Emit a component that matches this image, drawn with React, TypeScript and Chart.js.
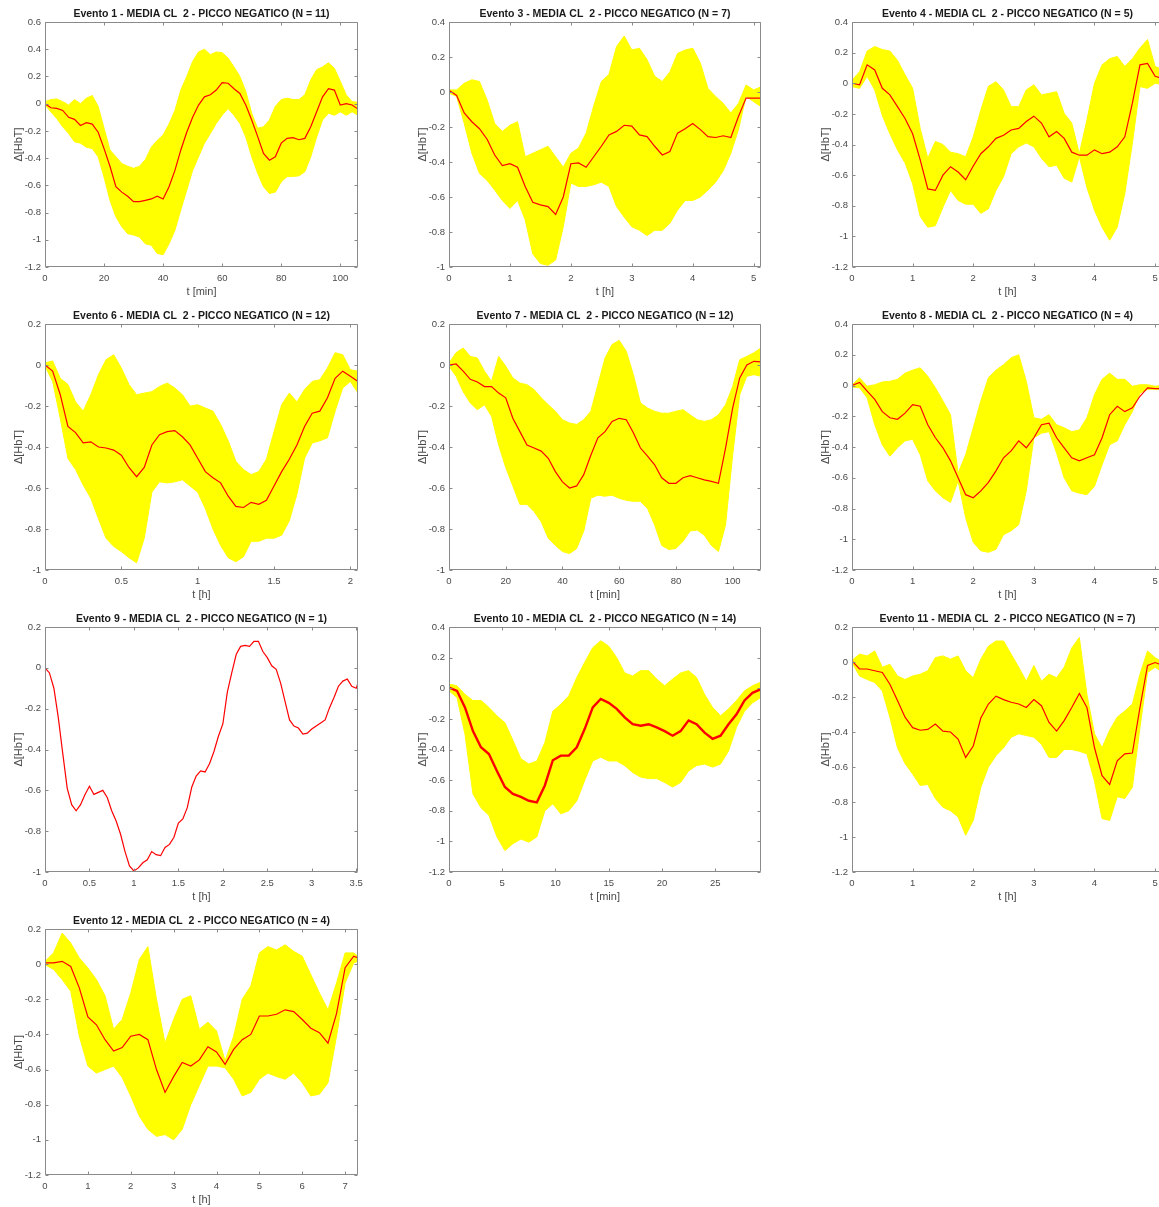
import React, { useEffect, useRef } from "react";
import { Chart, registerables } from "chart.js";

Chart.register(...registerables);

// ---------------- DATA ----------------
// Evento 1 (t in minutes)
const ev1T = [0, 2, 4, 6, 8, 10, 12, 14, 16, 18, 20, 22, 24, 26, 28, 30, 32, 34, 36, 38, 40, 42, 44, 46, 48, 50, 52, 54, 56, 58, 60, 62, 64, 66, 68, 70, 72, 74, 76, 78, 80, 82, 84, 86, 88, 90, 92, 94, 96, 98, 100, 102, 104, 106];
const ev1Mean = [0, -0.03, -0.035, -0.05, -0.1, -0.115, -0.16, -0.14, -0.15, -0.21, -0.33, -0.46, -0.61, -0.65, -0.68, -0.72, -0.72, -0.71, -0.7, -0.68, -0.7, -0.61, -0.49, -0.34, -0.21, -0.1, -0.01, 0.05, 0.065, 0.1, 0.155, 0.15, 0.11, 0.075, -0.01, -0.12, -0.24, -0.365, -0.415, -0.39, -0.29, -0.255, -0.25, -0.265, -0.255, -0.17, -0.06, 0.05, 0.11, 0.1, -0.01, 0.0, -0.01, -0.04];
const ev1Upper = [0.015, 0.03, 0.035, 0.015, -0.01, 0.03, 0.0, 0.04, 0.06, -0.02, -0.18, -0.34, -0.39, -0.44, -0.46, -0.475, -0.46, -0.41, -0.32, -0.27, -0.23, -0.15, -0.05, 0.1, 0.2, 0.31, 0.38, 0.4, 0.36, 0.38, 0.375, 0.335, 0.27, 0.2, 0.09, -0.07, -0.18, -0.17, -0.12, -0.02, 0.03, 0.04, 0.03, 0.03, 0.065, 0.175, 0.25, 0.27, 0.3, 0.26, 0.165, 0.065, 0.015, 0.01];
const ev1Lower = [-0.01, -0.06, -0.11, -0.17, -0.22, -0.28, -0.29, -0.32, -0.33, -0.39, -0.54, -0.71, -0.83, -0.905, -0.955, -0.965, -0.98, -1.03, -1.04, -1.1, -1.11, -1.03, -0.93, -0.78, -0.635, -0.49, -0.39, -0.29, -0.22, -0.145, -0.085, -0.035, -0.085, -0.145, -0.245, -0.39, -0.51, -0.61, -0.66, -0.65, -0.575, -0.535, -0.535, -0.53, -0.5, -0.39, -0.245, -0.12, -0.07, -0.085, -0.06, -0.085, -0.06, -0.085];

// Evento 3 (t in hours)
const ev3T = [0, 0.125, 0.25, 0.375, 0.5, 0.625, 0.75, 0.875, 1, 1.125, 1.25, 1.375, 1.5, 1.625, 1.75, 1.875, 2, 2.125, 2.25, 2.375, 2.5, 2.625, 2.75, 2.875, 3, 3.125, 3.25, 3.375, 3.5, 3.625, 3.75, 3.875, 4, 4.125, 4.25, 4.375, 4.5, 4.625, 4.75, 4.875, 5, 5.125];
const ev3Mean = [0.01, -0.02, -0.12, -0.17, -0.21, -0.27, -0.36, -0.42, -0.41, -0.43, -0.54, -0.63, -0.645, -0.655, -0.7, -0.6, -0.41, -0.405, -0.43, -0.37, -0.31, -0.245, -0.225, -0.19, -0.195, -0.245, -0.255, -0.31, -0.36, -0.34, -0.235, -0.21, -0.18, -0.215, -0.255, -0.26, -0.25, -0.26, -0.14, -0.035, -0.035, -0.035];
const ev3Upper = [0.012, 0.012, 0.05, 0.07, 0.06, -0.045, -0.18, -0.225, -0.19, -0.17, -0.37, -0.35, -0.33, -0.31, -0.37, -0.43, -0.35, -0.32, -0.235, -0.08, 0.06, 0.1, 0.26, 0.32, 0.24, 0.25, 0.185, 0.09, 0.06, 0.115, 0.22, 0.24, 0.25, 0.165, 0.02, -0.025, -0.065, -0.12, -0.065, 0.04, 0.012, 0.03];
const ev3Lower = [-0.007, -0.025, -0.18, -0.35, -0.465, -0.505, -0.56, -0.62, -0.665, -0.62, -0.73, -0.925, -0.98, -0.99, -0.96, -0.77, -0.52, -0.54, -0.54, -0.53, -0.515, -0.54, -0.655, -0.715, -0.77, -0.79, -0.82, -0.79, -0.79, -0.75, -0.675, -0.62, -0.62, -0.6, -0.56, -0.515, -0.45, -0.35, -0.215, -0.025, -0.055, -0.085];

// Evento 4 (t in hours)
const ev4T = [0, 0.125, 0.25, 0.375, 0.5, 0.625, 0.75, 0.875, 1, 1.125, 1.25, 1.375, 1.5, 1.625, 1.75, 1.875, 2, 2.125, 2.25, 2.375, 2.5, 2.625, 2.75, 2.875, 3, 3.125, 3.25, 3.375, 3.5, 3.625, 3.75, 3.875, 4, 4.125, 4.25, 4.375, 4.5, 4.625, 4.75, 4.875, 5, 5.13];
const ev4Mean = [0, -0.01, 0.12, 0.087, -0.033, -0.076, -0.153, -0.23, -0.33, -0.5, -0.69, -0.7, -0.6, -0.545, -0.58, -0.63, -0.54, -0.46, -0.415, -0.36, -0.34, -0.305, -0.295, -0.25, -0.215, -0.26, -0.35, -0.315, -0.36, -0.45, -0.47, -0.47, -0.435, -0.46, -0.45, -0.415, -0.35, -0.13, 0.12, 0.13, 0.045, 0.03];
const ev4Upper = [0.02, 0.075, 0.21, 0.24, 0.22, 0.21, 0.15, 0.055, -0.033, -0.295, -0.49, -0.38, -0.4, -0.45, -0.46, -0.48, -0.35, -0.175, -0.02, 0.01, -0.044, -0.153, -0.153, -0.044, -0.01, -0.076, -0.066, -0.055, -0.197, -0.26, -0.46, -0.24, 0.0, 0.12, 0.16, 0.175, 0.11, 0.16, 0.23, 0.285, 0.11, 0.087];
const ev4Lower = [-0.022, -0.033, 0.045, -0.044, -0.21, -0.33, -0.435, -0.52, -0.655, -0.87, -0.94, -0.93, -0.81, -0.7, -0.765, -0.79, -0.79, -0.85, -0.82, -0.7, -0.61, -0.46, -0.415, -0.39, -0.415, -0.49, -0.545, -0.535, -0.62, -0.645, -0.48, -0.68, -0.83, -0.94, -1.025, -0.94, -0.72, -0.39, -0.022, -0.033, 0.0, -0.01];

// Evento 6 (t in hours)
const ev6T = [0, 0.05, 0.1, 0.15, 0.2, 0.25, 0.3, 0.35, 0.4, 0.45, 0.5, 0.55, 0.6, 0.65, 0.7, 0.75, 0.8, 0.85, 0.9, 0.95, 1, 1.05, 1.1, 1.15, 1.2, 1.25, 1.3, 1.35, 1.4, 1.45, 1.5, 1.55, 1.6, 1.65, 1.7, 1.75, 1.8, 1.85, 1.9, 1.95, 2, 2.05];
const ev6Mean = [0, -0.03, -0.145, -0.3, -0.33, -0.38, -0.375, -0.4, -0.405, -0.415, -0.44, -0.5, -0.545, -0.5, -0.39, -0.34, -0.325, -0.32, -0.35, -0.39, -0.455, -0.52, -0.55, -0.575, -0.64, -0.69, -0.695, -0.67, -0.68, -0.66, -0.59, -0.52, -0.46, -0.39, -0.3, -0.235, -0.225, -0.16, -0.065, -0.03, -0.055, -0.08];
const ev6Upper = [0.01, 0.02, -0.065, -0.095, -0.18, -0.225, -0.145, -0.047, 0.026, 0.05, -0.015, -0.095, -0.145, -0.137, -0.13, -0.105, -0.088, -0.112, -0.145, -0.2, -0.194, -0.21, -0.225, -0.29, -0.37, -0.47, -0.51, -0.535, -0.52, -0.46, -0.325, -0.194, -0.137, -0.18, -0.12, -0.08, -0.072, -0.015, 0.06, 0.05, -0.023, -0.03];
const ev6Lower = [-0.006, -0.08, -0.26, -0.455, -0.51, -0.585, -0.65, -0.75, -0.845, -0.885, -0.91, -0.94, -0.965, -0.845, -0.62, -0.57, -0.575, -0.57, -0.56, -0.59, -0.62, -0.7, -0.8, -0.88, -0.94, -0.96, -0.935, -0.86, -0.86, -0.845, -0.845, -0.83, -0.76, -0.63, -0.455, -0.38, -0.37, -0.355, -0.225, -0.112, -0.08, -0.137];

// Evento 7 (t in minutes)
const ev7T = [0, 2.5, 5, 7.5, 10, 12.5, 15, 17.5, 20, 22.5, 25, 27.5, 30, 32.5, 35, 37.5, 40, 42.5, 45, 47.5, 50, 52.5, 55, 57.5, 60, 62.5, 65, 67.5, 70, 72.5, 75, 77.5, 80, 82.5, 85, 87.5, 90, 92.5, 95, 97.5, 100, 102.5, 105, 107.5, 110];
const ev7Mean = [0, 0.005, -0.03, -0.07, -0.083, -0.105, -0.105, -0.137, -0.16, -0.26, -0.325, -0.39, -0.405, -0.42, -0.455, -0.52, -0.57, -0.6, -0.59, -0.535, -0.44, -0.355, -0.325, -0.275, -0.26, -0.267, -0.33, -0.405, -0.445, -0.487, -0.55, -0.577, -0.577, -0.55, -0.54, -0.55, -0.56, -0.568, -0.577, -0.405, -0.21, -0.063, 0.0, 0.018, 0.015];
const ev7Upper = [0.01, 0.06, 0.083, 0.042, 0.034, -0.03, -0.08, 0.042, -0.006, -0.063, -0.088, -0.096, -0.12, -0.16, -0.194, -0.226, -0.267, -0.283, -0.29, -0.267, -0.226, -0.096, 0.034, 0.1, 0.12, 0.067, -0.047, -0.185, -0.21, -0.226, -0.235, -0.235, -0.226, -0.218, -0.243, -0.267, -0.275, -0.267, -0.243, -0.194, -0.105, 0.026, 0.042, 0.06, 0.083];
const ev7Lower = [-0.006, -0.055, -0.13, -0.185, -0.218, -0.194, -0.25, -0.39, -0.5, -0.59, -0.68, -0.68, -0.715, -0.765, -0.845, -0.88, -0.91, -0.92, -0.895, -0.81, -0.65, -0.635, -0.64, -0.635, -0.65, -0.66, -0.665, -0.665, -0.7, -0.78, -0.88, -0.9, -0.895, -0.86, -0.81, -0.805, -0.83, -0.88, -0.91, -0.78, -0.44, -0.145, -0.055, -0.047, -0.055];

// Evento 8 (t in hours)
const ev8T = [0, 0.125, 0.25, 0.375, 0.5, 0.625, 0.75, 0.875, 1, 1.125, 1.25, 1.375, 1.5, 1.625, 1.75, 1.875, 2, 2.125, 2.25, 2.375, 2.5, 2.625, 2.75, 2.875, 3, 3.125, 3.25, 3.375, 3.5, 3.625, 3.75, 3.875, 4, 4.125, 4.25, 4.375, 4.5, 4.625, 4.75, 4.875, 5, 5.13];
const ev8Mean = [0, 0.02, -0.037, -0.09, -0.17, -0.21, -0.22, -0.18, -0.125, -0.135, -0.255, -0.34, -0.405, -0.49, -0.6, -0.71, -0.73, -0.685, -0.63, -0.555, -0.47, -0.425, -0.36, -0.405, -0.34, -0.255, -0.245, -0.34, -0.405, -0.47, -0.49, -0.47, -0.45, -0.34, -0.19, -0.135, -0.17, -0.145, -0.07, -0.015, -0.02, -0.02];
const ev8Upper = [0.005, 0.05, -0.005, 0.005, 0.023, 0.027, 0.04, 0.08, 0.1, 0.115, 0.06, -0.015, -0.1, -0.19, -0.57, -0.45, -0.275, -0.1, 0.05, 0.1, 0.135, 0.18, 0.2, 0.027, -0.21, -0.22, -0.19, -0.255, -0.275, -0.3, -0.29, -0.21, -0.06, 0.04, 0.08, 0.04, 0.04, -0.005, 0.005, 0.005, -0.005, 0.0];
const ev8Lower = [-0.01, -0.015, -0.08, -0.255, -0.385, -0.46, -0.405, -0.36, -0.35, -0.45, -0.62, -0.685, -0.73, -0.76, -0.62, -0.86, -1.02, -1.075, -1.085, -1.065, -0.97, -0.945, -0.905, -0.685, -0.34, -0.31, -0.3, -0.44, -0.6, -0.685, -0.7, -0.71, -0.655, -0.515, -0.385, -0.36, -0.255, -0.17, -0.05, -0.025, -0.025, -0.025];

// Evento 9 (t in hours, single trace)
const ev9T = [0, 0.05, 0.1, 0.15, 0.2, 0.25, 0.3, 0.35, 0.4, 0.45, 0.5, 0.55, 0.6, 0.65, 0.7, 0.75, 0.8, 0.85, 0.9, 0.95, 1, 1.05, 1.1, 1.15, 1.2, 1.25, 1.3, 1.35, 1.4, 1.45, 1.5, 1.55, 1.6, 1.65, 1.7, 1.75, 1.8, 1.85, 1.9, 1.95, 2, 2.05, 2.1, 2.15, 2.2, 2.25, 2.3, 2.35, 2.4, 2.45, 2.5, 2.55, 2.6, 2.65, 2.7, 2.75, 2.8, 2.85, 2.9, 2.95, 3, 3.05, 3.1, 3.15, 3.2, 3.25, 3.3, 3.35, 3.4, 3.45, 3.5, 3.52];
const ev9Mean = [0, -0.025, -0.1, -0.245, -0.42, -0.59, -0.67, -0.7, -0.67, -0.62, -0.58, -0.62, -0.61, -0.6, -0.635, -0.7, -0.75, -0.815, -0.9, -0.97, -0.995, -0.98, -0.955, -0.94, -0.9, -0.915, -0.92, -0.88, -0.865, -0.83, -0.76, -0.74, -0.685, -0.585, -0.53, -0.505, -0.51, -0.47, -0.41, -0.335, -0.275, -0.12, -0.025, 0.065, 0.105, 0.11, 0.105, 0.13, 0.13, 0.08, 0.05, 0.01, -0.007, -0.075, -0.165, -0.255, -0.285, -0.295, -0.325, -0.32, -0.3, -0.285, -0.27, -0.255, -0.195, -0.145, -0.09, -0.065, -0.055, -0.09, -0.1, -0.075];

// Evento 10 (t in minutes)
const ev10T = [0, 0.75, 1.5, 2.25, 3, 3.75, 4.5, 5.25, 6, 6.75, 7.5, 8.25, 9, 9.75, 10.5, 11.25, 12, 12.75, 13.5, 14.25, 15, 15.75, 16.5, 17.25, 18, 18.75, 19.5, 20.25, 21, 21.75, 22.5, 23.25, 24, 24.75, 25.5, 26.25, 27, 27.75, 28.5, 29.3];
const ev10Mean = [0.005, -0.017, -0.125, -0.28, -0.385, -0.43, -0.54, -0.645, -0.69, -0.71, -0.735, -0.745, -0.635, -0.47, -0.44, -0.44, -0.385, -0.265, -0.125, -0.07, -0.095, -0.135, -0.19, -0.235, -0.245, -0.235, -0.255, -0.28, -0.31, -0.28, -0.21, -0.235, -0.29, -0.33, -0.31, -0.235, -0.17, -0.08, -0.03, -0.006];
const ev10Upper = [0.027, 0.016, -0.04, -0.08, -0.08, -0.125, -0.18, -0.225, -0.34, -0.46, -0.495, -0.475, -0.355, -0.15, -0.105, -0.05, 0.07, 0.17, 0.265, 0.31, 0.275, 0.2, 0.1, 0.08, 0.115, 0.115, 0.06, 0.016, 0.06, 0.1, 0.115, 0.07, -0.04, -0.125, -0.18, -0.135, -0.08, -0.017, 0.016, 0.04];
const ev10Lower = [-0.017, -0.06, -0.3, -0.69, -0.78, -0.83, -0.97, -1.06, -1.015, -0.985, -1.005, -0.97, -0.8, -0.755, -0.82, -0.8, -0.735, -0.6, -0.475, -0.45, -0.475, -0.475, -0.505, -0.55, -0.58, -0.59, -0.59, -0.615, -0.645, -0.615, -0.54, -0.505, -0.495, -0.515, -0.495, -0.41, -0.255, -0.15, -0.095, -0.06];

// Evento 11 (t in hours)
const ev11T = [0, 0.125, 0.25, 0.375, 0.5, 0.625, 0.75, 0.875, 1, 1.125, 1.25, 1.375, 1.5, 1.625, 1.75, 1.875, 2, 2.125, 2.25, 2.375, 2.5, 2.625, 2.75, 2.875, 3, 3.125, 3.25, 3.375, 3.5, 3.625, 3.75, 3.875, 4, 4.125, 4.25, 4.375, 4.5, 4.625, 4.75, 4.875, 5, 5.13];
const ev11Mean = [0.006, -0.04, -0.04, -0.05, -0.06, -0.127, -0.22, -0.315, -0.375, -0.39, -0.385, -0.355, -0.395, -0.4, -0.44, -0.545, -0.48, -0.32, -0.24, -0.195, -0.215, -0.23, -0.24, -0.26, -0.215, -0.25, -0.345, -0.395, -0.335, -0.26, -0.18, -0.26, -0.49, -0.65, -0.7, -0.565, -0.525, -0.52, -0.26, -0.02, -0.003, -0.02];
const ev11Upper = [0.01, 0.045, 0.035, 0.063, -0.03, -0.013, -0.08, -0.1, -0.08, -0.07, -0.05, 0.025, 0.035, 0.016, 0.035, -0.05, -0.09, 0.016, 0.09, 0.12, 0.12, 0.045, -0.03, -0.11, -0.02, -0.11, -0.07, -0.09, -0.03, 0.08, 0.14, -0.185, -0.41, -0.49, -0.39, -0.315, -0.28, -0.24, -0.07, 0.063, 0.025, -0.003];
const ev11Lower = [-0.003, -0.08, -0.1, -0.117, -0.165, -0.315, -0.49, -0.58, -0.64, -0.705, -0.7, -0.78, -0.83, -0.85, -0.885, -0.99, -0.905, -0.715, -0.6, -0.535, -0.49, -0.43, -0.41, -0.42, -0.43, -0.47, -0.545, -0.545, -0.5, -0.5, -0.51, -0.525, -0.68, -0.895, -0.905, -0.77, -0.78, -0.715, -0.375, -0.06, -0.03, -0.06];

// Evento 12 (t in hours)
const ev12T = [0, 0.2, 0.4, 0.6, 0.8, 1, 1.2, 1.4, 1.6, 1.8, 2, 2.2, 2.4, 2.6, 2.8, 3, 3.2, 3.4, 3.6, 3.8, 4, 4.2, 4.4, 4.6, 4.8, 5, 5.2, 5.4, 5.6, 5.8, 6, 6.2, 6.4, 6.6, 6.8, 7, 7.2, 7.3];
const ev12Mean = [0.007, 0.007, 0.016, -0.013, -0.135, -0.3, -0.345, -0.43, -0.495, -0.475, -0.41, -0.4, -0.43, -0.6, -0.73, -0.64, -0.56, -0.58, -0.545, -0.47, -0.5, -0.57, -0.485, -0.43, -0.4, -0.295, -0.295, -0.285, -0.26, -0.27, -0.315, -0.365, -0.39, -0.45, -0.28, -0.02, 0.045, 0.035];
const ev12Upper = [0.016, 0.064, 0.177, 0.12, 0.035, -0.022, -0.088, -0.18, -0.37, -0.315, -0.164, 0.026, 0.1, -0.2, -0.45, -0.315, -0.2, -0.18, -0.37, -0.33, -0.38, -0.55, -0.41, -0.2, -0.125, 0.064, 0.1, 0.08, 0.11, 0.073, 0.045, -0.06, -0.164, -0.26, -0.107, 0.064, 0.064, 0.045];
const ev12Lower = [-0.003, -0.03, -0.088, -0.154, -0.41, -0.58, -0.62, -0.6, -0.58, -0.645, -0.75, -0.865, -0.94, -0.98, -0.97, -1.0, -0.94, -0.8, -0.69, -0.58, -0.58, -0.59, -0.655, -0.75, -0.73, -0.655, -0.62, -0.64, -0.655, -0.62, -0.675, -0.75, -0.74, -0.675, -0.41, -0.107, 0.007, 0.016];

// Tick labels
const yTicks06 = [-1.2, -1, -0.8, -0.6, -0.4, -0.2, 0, 0.2, 0.4, 0.6];
const yTicks04 = [-1.2, -1, -0.8, -0.6, -0.4, -0.2, 0, 0.2, 0.4];
const yTicks04b = [-1, -0.8, -0.6, -0.4, -0.2, 0, 0.2, 0.4];
const yTicks02 = [-1, -0.8, -0.6, -0.4, -0.2, 0, 0.2];
const yTicks02b = [-1.2, -1, -0.8, -0.6, -0.4, -0.2, 0, 0.2];
const xTicksMin100 = [0, 20, 40, 60, 80, 100];
const xTicksH5 = [0, 1, 2, 3, 4, 5];
const xTicksH2 = [0, 0.5, 1, 1.5, 2];
const xTicksH35 = [0, 0.5, 1, 1.5, 2, 2.5, 3, 3.5];
const xTicksMin25 = [0, 5, 10, 15, 20, 25];
const xTicksH7 = [0, 1, 2, 3, 4, 5, 6, 7];

// ---------------- LAYOUT / STYLE ----------------
const COLS = [[45, 358], [449, 761], [852, 1163]];
const ROWS = [[22, 267], [324, 570], [627, 872], [929, 1175]];
const YAXIS_W = 45;
const XAXIS_H = 34;
const PAD_TOP = 22;
const PAD_RIGHT = 12;
const PAD_BOTTOM = 2;
const FONT = '"Liberation Sans", Arial, Helvetica, sans-serif';
const YELLOW = "#ffff00";
const RED = "#ff0000";
const AXIS_COLOR = "#8a8a8a";
const TEXT_COLOR = "#4a4a4a";

type PanelDef = {
  title: string;
  row: number;
  col: number;
  xMax: number;
  yMin: number;
  yMax: number;
  xTicks: number[];
  yTicks: number[];
  xLabel: string;
  t: number[];
  mean: number[];
  upper?: number[];
  lower?: number[];
  lw: number;
};

const PANELS: PanelDef[] = [
  { title: "Evento 1 - MEDIA CL  2 - PICCO NEGATICO (N = 11)", row: 0, col: 0, xMax: 106, yMin: -1.2, yMax: 0.6, xTicks: xTicksMin100, yTicks: yTicks06, xLabel: "t [min]", t: ev1T, mean: ev1Mean, upper: ev1Upper, lower: ev1Lower, lw: 1.2 },
  { title: "Evento 3 - MEDIA CL  2 - PICCO NEGATICO (N = 7)", row: 0, col: 1, xMax: 5.12, yMin: -1, yMax: 0.4, xTicks: xTicksH5, yTicks: yTicks04b, xLabel: "t [h]", t: ev3T, mean: ev3Mean, upper: ev3Upper, lower: ev3Lower, lw: 1.2 },
  { title: "Evento 4 - MEDIA CL  2 - PICCO NEGATICO (N = 5)", row: 0, col: 2, xMax: 5.13, yMin: -1.2, yMax: 0.4, xTicks: xTicksH5, yTicks: yTicks04, xLabel: "t [h]", t: ev4T, mean: ev4Mean, upper: ev4Upper, lower: ev4Lower, lw: 1.2 },
  { title: "Evento 6 - MEDIA CL  2 - PICCO NEGATICO (N = 12)", row: 1, col: 0, xMax: 2.05, yMin: -1, yMax: 0.2, xTicks: xTicksH2, yTicks: yTicks02, xLabel: "t [h]", t: ev6T, mean: ev6Mean, upper: ev6Upper, lower: ev6Lower, lw: 1.2 },
  { title: "Evento 7 - MEDIA CL  2 - PICCO NEGATICO (N = 12)", row: 1, col: 1, xMax: 110, yMin: -1, yMax: 0.2, xTicks: xTicksMin100, yTicks: yTicks02, xLabel: "t [min]", t: ev7T, mean: ev7Mean, upper: ev7Upper, lower: ev7Lower, lw: 1.2 },
  { title: "Evento 8 - MEDIA CL  2 - PICCO NEGATICO (N = 4)", row: 1, col: 2, xMax: 5.13, yMin: -1.2, yMax: 0.4, xTicks: xTicksH5, yTicks: yTicks04, xLabel: "t [h]", t: ev8T, mean: ev8Mean, upper: ev8Upper, lower: ev8Lower, lw: 1.2 },
  { title: "Evento 9 - MEDIA CL  2 - PICCO NEGATICO (N = 1)", row: 2, col: 0, xMax: 3.52, yMin: -1, yMax: 0.2, xTicks: xTicksH35, yTicks: yTicks02, xLabel: "t [h]", t: ev9T, mean: ev9Mean, lw: 1.2 },
  { title: "Evento 10 - MEDIA CL  2 - PICCO NEGATICO (N = 14)", row: 2, col: 1, xMax: 29.3, yMin: -1.2, yMax: 0.4, xTicks: xTicksMin25, yTicks: yTicks04, xLabel: "t [min]", t: ev10T, mean: ev10Mean, upper: ev10Upper, lower: ev10Lower, lw: 2.4 },
  { title: "Evento 11 - MEDIA CL  2 - PICCO NEGATICO (N = 7)", row: 2, col: 2, xMax: 5.13, yMin: -1.2, yMax: 0.2, xTicks: xTicksH5, yTicks: yTicks02b, xLabel: "t [h]", t: ev11T, mean: ev11Mean, upper: ev11Upper, lower: ev11Lower, lw: 1.2 },
  { title: "Evento 12 - MEDIA CL  2 - PICCO NEGATICO (N = 4)", row: 3, col: 0, xMax: 7.3, yMin: -1.2, yMax: 0.2, xTicks: xTicksH7, yTicks: yTicks02b, xLabel: "t [h]", t: ev12T, mean: ev12Mean, upper: ev12Upper, lower: ev12Lower, lw: 1.2 },
];

const fmt = (v: any) => String(Math.round(Number(v) * 100) / 100);

function boxPlugin(title: string) {
  return {
    id: "matlabBox",
    afterDatasetsDraw(chart: any) {
      const { ctx, chartArea } = chart;
      const { left, top, right, bottom } = chartArea;
      const xs = chart.scales.x;
      const ys = chart.scales.y;
      ctx.save();
      ctx.strokeStyle = AXIS_COLOR;
      ctx.lineWidth = 1;
      const l = Math.round(left) + 0.5;
      const r = Math.round(right) - 0.5;
      const t = Math.round(top) + 0.5;
      const b = Math.round(bottom) - 0.5;
      ctx.beginPath();
      ctx.rect(l, t, r - l, b - t);
      ctx.stroke();
      const tl = 3;
      ctx.beginPath();
      xs.ticks.forEach((tk: any) => {
        const px = Math.round(xs.getPixelForValue(tk.value)) + 0.5;
        ctx.moveTo(px, b);
        ctx.lineTo(px, b - tl);
        ctx.moveTo(px, t);
        ctx.lineTo(px, t + tl);
      });
      ys.ticks.forEach((tk: any) => {
        const py = Math.round(ys.getPixelForValue(tk.value)) + 0.5;
        ctx.moveTo(l, py);
        ctx.lineTo(l + tl, py);
        ctx.moveTo(r, py);
        ctx.lineTo(r - tl, py);
      });
      ctx.stroke();
      ctx.fillStyle = "#1a1a1a";
      ctx.font = `bold 10.5px ${FONT}`;
      ctx.textAlign = "center";
      ctx.textBaseline = "middle";
      ctx.fillText(title, (left + right) / 2, top - 8);
      ctx.restore();
    },
  };
}

function Panel({ p }: { p: PanelDef }) {
  const ref = useRef<HTMLCanvasElement>(null);
  const [x0, x1] = COLS[p.col];
  const [y0, y1] = ROWS[p.row];
  const width = x1 - x0 + YAXIS_W + PAD_RIGHT;
  const height = y1 - y0 + PAD_TOP + XAXIS_H + PAD_BOTTOM;

  useEffect(() => {
    const datasets: any[] = [
      {
        data: p.t.map((x, i) => ({ x, y: p.mean[i] })),
        borderColor: RED,
        backgroundColor: RED,
        borderWidth: p.lw,
        pointRadius: 0,
        fill: false,
        tension: 0,
      },
    ];
    if (p.upper && p.lower) {
      datasets.push(
        {
          data: p.t.map((x, i) => ({ x, y: p.upper![i] })),
          borderColor: YELLOW,
          backgroundColor: YELLOW,
          borderWidth: 1,
          pointRadius: 0,
          fill: "+1",
          tension: 0,
        },
        {
          data: p.t.map((x, i) => ({ x, y: p.lower![i] })),
          borderColor: YELLOW,
          backgroundColor: YELLOW,
          borderWidth: 1,
          pointRadius: 0,
          fill: false,
          tension: 0,
        }
      );
    }
    const tickFont = { family: FONT, size: 9.5 };
    const titleFont = { family: FONT, size: 11 };
    const chart = new Chart(ref.current as HTMLCanvasElement, {
      type: "line",
      data: { datasets },
      options: {
        animation: false,
        responsive: false,
        devicePixelRatio: 1,
        events: [],
        layout: { padding: { left: 0, top: PAD_TOP, right: PAD_RIGHT, bottom: PAD_BOTTOM } },
        plugins: {
          legend: { display: false },
          tooltip: { enabled: false },
          title: { display: false },
        },
        scales: {
          x: {
            type: "linear",
            min: 0,
            max: p.xMax,
            grid: { display: false, drawTicks: false, tickLength: 0 },
            border: { display: false },
            ticks: { autoSkip: false, maxRotation: 0, minRotation: 0, padding: 6, font: tickFont, color: TEXT_COLOR, callback: fmt },
            title: { display: true, text: p.xLabel, font: titleFont, color: TEXT_COLOR, padding: { top: 0, bottom: 2 } },
            afterBuildTicks: (s: any) => {
              s.ticks = p.xTicks.map((v) => ({ value: v }));
            },
            afterFit: (s: any) => {
              s.height = XAXIS_H;
              s.paddingLeft = 0;
              s.paddingRight = 0;
            },
          },
          y: {
            type: "linear",
            min: p.yMin,
            max: p.yMax,
            grid: { display: false, drawTicks: false, tickLength: 0 },
            border: { display: false },
            ticks: { autoSkip: false, padding: 4, font: tickFont, color: TEXT_COLOR, callback: fmt },
            title: { display: true, text: "Δ[HbT]", font: titleFont, color: TEXT_COLOR, padding: { top: 12, bottom: 0 } },
            afterBuildTicks: (s: any) => {
              s.ticks = p.yTicks.map((v) => ({ value: v }));
            },
            afterFit: (s: any) => {
              s.width = YAXIS_W;
              s.paddingTop = 0;
              s.paddingBottom = 0;
            },
          },
        },
      } as any,
      plugins: [boxPlugin(p.title)],
    });
    return () => chart.destroy();
  }, []);

  return (
    <canvas
      ref={ref}
      width={width}
      height={height}
      style={{ position: "absolute", left: x0 - YAXIS_W, top: y0 - PAD_TOP, width, height, display: "block" }}
    />
  );
}

export default function App() {
  return (
    <div
      style={{
        position: "absolute",
        left: 0,
        top: 0,
        width: 1159,
        height: 1207,
        overflow: "hidden",
        background: "#ffffff",
      }}
    >
      {PANELS.map((p) => (
        <Panel key={p.title} p={p} />
      ))}
    </div>
  );
}
